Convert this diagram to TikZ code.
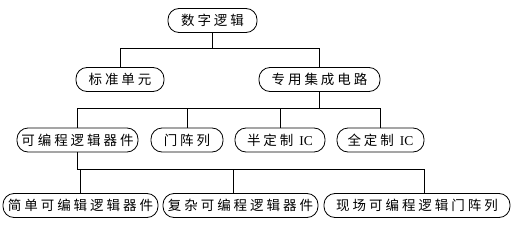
\documentclass[tikz,border=0pt]{standalone}
\usepackage{fontspec}
\setmainfont{Liberation Serif}
\newfontfamily\cjk[LetterSpace=22]{Noto Sans CJK SC}
\begin{document}
\begin{tikzpicture}[x=1pt, y=-1pt, box/.style={rounded corners=11pt, draw, thick, minimum height=24pt, inner xsep=2pt, font=\fontsize{13.5}{15}\selectfont\cjk}]
        \useasboundingbox (0,0) rectangle (528,225);
        % top levels
        \node[box, minimum width=89pt] (logic) at (212.5, 20.5) {数字逻辑};
        \node[box, minimum width=88pt] (std) at (120, 79.5) {标准单元};
        \node[box, minimum width=121pt] (asic) at (319.5, 79.5) {专用集成电路};
        % ASIC kinds
        \node[box, minimum width=121pt] (pld) at (77.5, 140) {可编程逻辑器件};
        \node[box, minimum width=72pt] (ga) at (187, 140) {门阵列};
        \node[box, minimum width=90pt] (semi) at (280, 140) {半定制 {\rmfamily IC}};
        \node[box, minimum width=87pt] (full) at (380.5, 140) {全定制 {\rmfamily IC}};
        % PLD kinds
        \node[box, minimum width=155pt] (spld) at (80.5, 205.5) {简单可编辑逻辑器件};
        \node[box, minimum width=155pt] (cpld) at (240.5, 205.5) {复杂可编程逻辑器件};
        \node[box, minimum width=186pt] (fpga) at (417, 205.5) {现场可编程逻辑门阵列};
        \draw[thick] (logic.south) -- ++(0,15) -| (std.north);
        \draw[thick] (logic.south) -- ++(0,15) -| (asic.north);
        \foreach \n in {pld, ga, semi, full}
            \draw[thick] (asic.south) -- ++(0,16) -| (\n.north);
        \draw[thick] (pld.south) -- ++(0,17) -| (spld.north);
        \draw[thick] (pld.south) -- ++(0,17) -| ([xshift=-7pt]cpld.north);
        \draw[thick] (pld.south) -- ++(0,17) -| ([xshift=7pt]fpga.north);
    \end{tikzpicture}
\end{document}
